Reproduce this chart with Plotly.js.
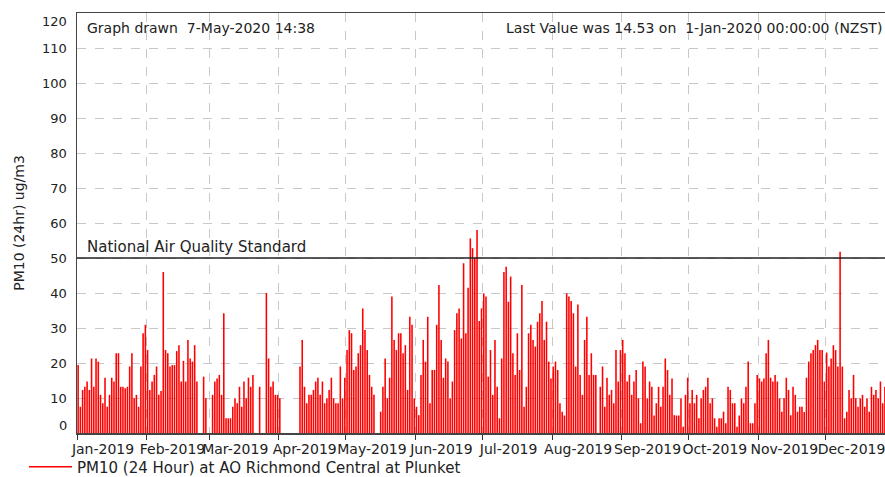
<!DOCTYPE html>
<html>
<head>
<meta charset="utf-8">
<script src="https://cdn.plot.ly/plotly-3.0.1.min.js"></script>
<style>
  html, body { margin: 0; padding: 0; overflow: hidden; background: #ffffff; }
  #chart { width: 905px; height: 477px; }
</style>
</head>
<body>
<div id="chart"></div>
<script>
// ---- data ----
const seriesName = 'PM10 (24 Hour) at AO Richmond Central at Plunket';
const startDate = [2019, 0, 1];           // 1-Jan-2019, one value per day
const dailyPM10 = [
  19.4, 7.5, 12.3, 13.2, 14.7, 12.3, 21.3, 13.2, 21.3, 20.4,
  10.9, 8.5, 15.8, 7.5, 10.9, 15.8, 14.7, 22.8, 22.8, 13.2,
  13.2, 12.8, 13.2, 19.0, 22.8, 9.9, 10.9, 7.5, 19.0, 28.5,
  30.9, 23.7, 12.3, 14.7, 16.6, 19.0, 10.9, 12.0, 46.0, 23.7,
  22.8, 19.0, 19.4, 19.4, 23.4, 25.1, 14.7, 20.6, 14.7, 26.6,
  21.3, 20.4, 25.1, 14.7, null, null, 16.1, 9.9, null, null,
  10.9, 14.7, 15.6, 16.6, 10.9, 34.2, 4.2, 4.2, 4.2, 7.5,
  9.9, 8.5, 13.2, 7.5, 14.7, 9.9, 15.8, 13.2, 16.6, null,
  null, 13.2, null, null, 40.0, 21.3, 13.2, 14.7, 10.9, 10.9,
  9.9, null, null, null, null, null, null, null, null, 19.0,
  26.6, 13.2, 8.5, 10.9, 10.9, 12.3, 14.7, 15.8, 10.9, 14.7,
  8.5, 9.9, 12.3, 15.8, 9.9, 8.5, 8.5, 19.0, 9.9, 15.8,
  23.7, 29.4, 28.5, 18.0, 19.0, 22.8, 25.1, 35.6, 29.4, 23.7,
  16.6, 13.2, 10.9, null, null, 6.1, 13.2, 21.3, 9.9, 15.8,
  39.0, 26.6, 23.7, 28.5, 28.5, 22.8, 25.1, 12.3, 33.2, 30.9,
  9.9, 7.5, 5.1, 16.6, 26.6, 20.4, 33.2, 8.5, 18.0, 18.0,
  30.9, 42.3, 26.6, 15.8, 21.3, 20.4, 9.9, 14.7, 29.4, 34.2,
  35.6, 27.0, 48.5, 28.5, 41.5, 55.6, 52.8, 50.0, 58.0, 32.0,
  35.6, 39.9, 39.0, 16.1, 23.7, 10.9, 26.6, 13.2, 4.2, 21.3,
  46.0, 47.5, 37.5, 44.7, 22.8, 16.6, 28.5, 18.0, 42.3, 7.5,
  13.2, 28.5, 30.9, 26.6, 24.7, 31.8, 34.2, 37.7, 26.6, 31.8,
  20.4, 15.6, 19.0, 20.4, 18.0, 8.5, 6.1, 5.0, 39.9, 39.0,
  37.7, 34.2, 19.0, 36.7, 16.6, 10.9, 26.6, 33.2, 16.6, 22.8,
  16.6, 16.6, null, 13.2, 19.0, 7.5, 15.8, 10.9, 12.3, 8.5,
  23.7, 14.7, 23.7, 26.6, 22.8, 14.7, 16.6, 10.9, 14.7, 18.0,
  9.9, 2.8, 20.4, 19.0, 9.9, 14.7, 13.2, 5.0, 8.5, 13.2,
  7.5, 13.2, 21.3, 18.0, 10.9, 15.6, 5.1, 5.0, 5.0, 9.9,
  1.8, 10.9, 15.8, 8.5, 12.3, 8.5, 10.9, 4.2, 9.9, 12.3,
  13.2, 15.8, 8.5, 9.9, 4.2, 1.8, 4.2, 4.2, 6.1, 2.8,
  13.2, 12.3, 8.5, 8.5, 1.8, 5.0, 9.9, 8.5, 13.2, 20.4,
  2.8, 2.8, 8.5, 16.6, 15.6, 14.7, 15.6, 22.8, 26.6, 15.8,
  14.7, 16.6, 14.7, 9.9, 6.1, 9.9, 15.8, 12.3, 5.1, 13.2,
  10.9, 6.1, 7.5, 7.5, 6.0, 15.8, 20.4, 22.8, 23.7, 25.1,
  26.6, 23.7, 23.7, 14.7, 23.0, 19.0, 21.3, 25.1, 23.7, 19.0,
  51.8, 19.0, 4.2, 6.1, 12.3, 9.9, 16.6, 9.9, 7.5, 9.9,
  10.9, 7.5, 9.9, 6.1, 13.2, 10.9, 12.3, 9.9, 14.7, 8.5,
  13.2, 6.1, 10.9, 12.0, 14.53
];
const monthTicks = ['2019-01-01','2019-02-01','2019-03-01','2019-04-01','2019-05-01','2019-06-01',
                    '2019-07-01','2019-08-01','2019-09-01','2019-10-01','2019-11-01','2019-12-01'];
const monthLabels = ['Jan-2019','Feb-2019','Mar-2019','Apr-2019','May-2019','Jun-2019',
                     'Jul-2019','Aug-2019','Sep-2019','Oct-2019','Nov-2019','Dec-2019'];
const yTickValues = [0,10,20,30,40,50,60,70,80,90,100,110,120];
const yTickLabels = ['0','10','20','30','40','50','60','70','80','90','100','110','120'];
const standardValue = 50;
const standardLabel = 'National Air Quality Standard';
const yTitle = 'PM10 (24hr) ug/m3';
const graphDrawnText = 'Graph drawn\u00A0 7-May-2020 14:38';
const lastValueText = 'Last Value was 14.53 on\u00A0 1-Jan-2020 00:00:00 (NZST)';
const xRange = ['2019-01-01', '2020-01-01'];

// ---- build dates (one per day, centred at midday) ----
function pad(n) { return (n < 10 ? '0' : '') + n; }
const dayDates = dailyPM10.map((v, i) => {
  const d = new Date(Date.UTC(startDate[0], startDate[1], startDate[2] + i, 12));
  return d.getUTCFullYear() + '-' + pad(d.getUTCMonth() + 1) + '-' + pad(d.getUTCDate()) + ' 12:00';
});

const FONT = 'DejaVu Sans, Verdana, sans-serif';
const TXT = '#222222';

const traces = [
  {
    type: 'bar',
    x: dayDates,
    y: dailyPM10,
    width: 0.7 * 86400000,
    marker: { color: '#ff0000', line: { width: 0 } },
    showlegend: false,
    hoverinfo: 'skip'
  },
  {
    type: 'scatter',
    mode: 'lines',
    x: [null],
    y: [null],
    name: seriesName,
    line: { color: '#ff0000', width: 1.3 },
    showlegend: true
  }
];

const yTickTextAxis = yTickLabels.map((t, i) => (i === 0 || i === yTickLabels.length - 1) ? '' : t);

const layout = {
  width: 905,
  height: 477,
  margin: { l: 77, r: 10, t: 13, b: 44 },
  paper_bgcolor: '#ffffff',
  plot_bgcolor: '#ffffff',
  font: { family: FONT, color: TXT, size: 14 },
  bargap: 0.3,
  xaxis: {
    type: 'date',
    range: xRange,
    tickmode: 'array',
    tickvals: monthTicks,
    ticktext: monthLabels,
    tickangle: 0,
    ticks: 'outside',
    ticklen: 5,
    tickwidth: 1,
    tickcolor: '#333333',
    ticklabelshift: 26,
    ticklabelstandoff: -2,
    tickfont: { family: FONT, size: 14, color: TXT },
    showgrid: true,
    gridcolor: '#c8c8c8',
    griddash: 'dash',
    gridwidth: 1,
    showline: true,
    linecolor: '#444444',
    linewidth: 1.5,
    mirror: true,
    zeroline: false,
    fixedrange: true
  },
  yaxis: {
    range: [0, 120],
    tickmode: 'array',
    tickvals: yTickValues,
    ticktext: yTickTextAxis,
    ticks: '',
    ticklabelstandoff: 6,
    tickfont: { family: FONT, size: 13, color: TXT },
    showgrid: true,
    gridcolor: '#c8c8c8',
    griddash: 'dash',
    gridwidth: 1,
    showline: true,
    linecolor: '#444444',
    linewidth: 1.5,
    mirror: true,
    zeroline: false,
    fixedrange: true,
    title: { text: yTitle, font: { family: FONT, size: 14, color: TXT }, standoff: 14 }
  },
  shapes: [
    {
      type: 'line', xref: 'paper', x0: 0, x1: 1,
      yref: 'y', y0: standardValue, y1: standardValue,
      line: { color: '#222222', width: 1.5 }
    }
  ],
  annotations: [
    {
      text: standardLabel, xref: 'paper', x: 0, xanchor: 'left', xshift: 8,
      yref: 'y', y: standardValue, yanchor: 'bottom', yshift: 0,
      showarrow: false, font: { family: FONT, size: 15, color: TXT }
    },
    {
      text: graphDrawnText, xref: 'paper', x: 0, xanchor: 'left', xshift: 8,
      yref: 'paper', y: 1, yanchor: 'middle', yshift: -15,
      showarrow: false, font: { family: FONT, size: 14, color: TXT }
    },
    {
      text: lastValueText, xref: 'paper', x: 1, xanchor: 'right', xshift: -11,
      yref: 'paper', y: 1, yanchor: 'middle', yshift: -15,
      showarrow: false, font: { family: FONT, size: 14, color: TXT }
    },
    {
      text: yTickLabels[0], xref: 'paper', x: 0, xanchor: 'right', xshift: -8,
      yref: 'y', y: yTickValues[0], yanchor: 'middle', yshift: 8,
      showarrow: false, font: { family: FONT, size: 13, color: TXT }
    },
    {
      text: yTickLabels[yTickLabels.length - 1], xref: 'paper', x: 0, xanchor: 'right', xshift: -8,
      yref: 'y', y: yTickValues[yTickValues.length - 1], yanchor: 'middle', yshift: -8,
      showarrow: false, font: { family: FONT, size: 13, color: TXT }
    }
  ],
  showlegend: true,
  legend: {
    xref: 'container', yref: 'container',
    x: 24 / 905, y: 10 / 477,
    xanchor: 'left', yanchor: 'middle',
    orientation: 'h',
    itemwidth: 43,
    bgcolor: 'rgba(0,0,0,0)',
    borderwidth: 0,
    font: { family: FONT, size: 15, color: TXT }
  }
};

Plotly.newPlot('chart', traces, layout, { displayModeBar: false, responsive: false, staticPlot: true });
</script>
</body>
</html>
